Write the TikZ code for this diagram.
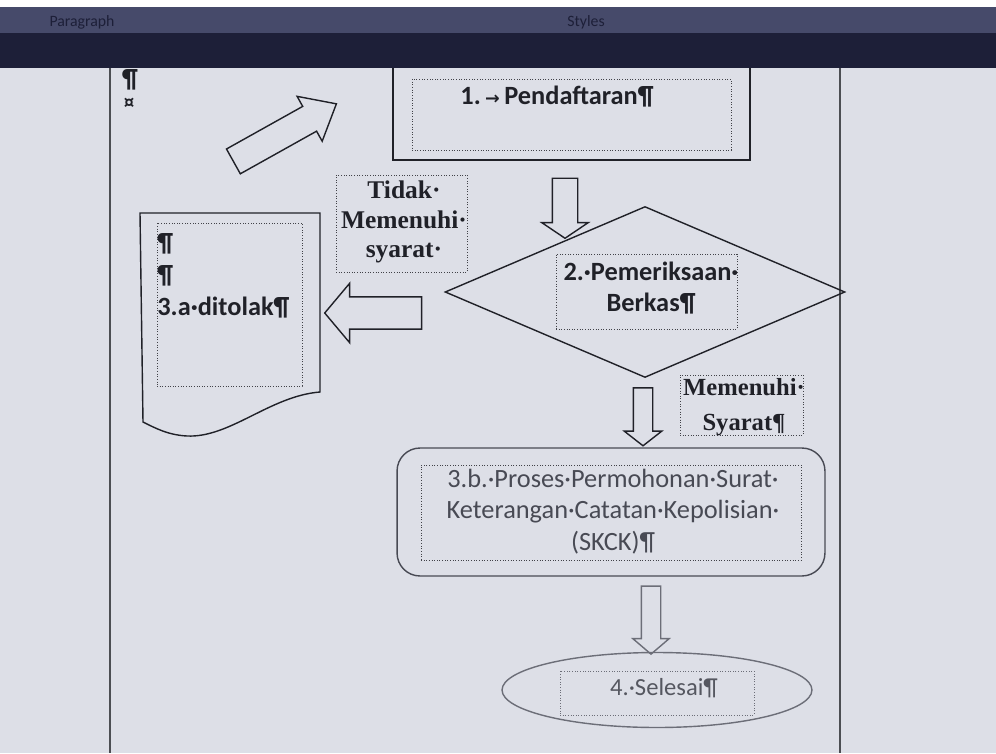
\documentclass[tikz,border=0pt]{standalone}
\usepackage{fontspec}
\setmainfont{Carlito}
\newfontfamily\hurufserif{Liberation Serif}
\newfontfamily\hurufsimbol{DejaVu Sans}
\usepackage{tikz}
\usetikzlibrary{positioning,shapes.geometric,shapes.arrows}

\definecolor{layar}{RGB}{221,223,231}
\definecolor{pita}{RGB}{70,74,106}
\definecolor{pitagelap}{RGB}{29,31,56}
\definecolor{tinta}{RGB}{32,33,40}
\definecolor{tintapudar}{RGB}{72,74,84}
\definecolor{tintasamar}{RGB}{108,110,120}

\tikzset{
        kotak/.style={draw=tinta, line width=0.8pt, inner sep=0pt},
        bingkai/.style={draw=tinta!85, densely dotted, line width=0.5pt, inner sep=0pt},
        panah/.style={draw=tinta, line width=0.8pt, single arrow},
        tebal/.style={font=\bfseries\fontsize{15}{18}\selectfont, text=tinta, align=center, inner sep=0pt},
        serif/.style={font=\hurufserif\bfseries\fontsize{14.5}{17}\selectfont, text=tinta, align=center, inner sep=0pt},
        biasa/.style={font=\fontsize{15}{17.9}\selectfont, text=tintapudar, align=center, inner sep=0pt}
}

\begin{document}
\begin{tikzpicture}[x=0.02cm, y=-0.02cm]
        \fill[layar] (0,0) rectangle (996,753);
        \useasboundingbox (0,0) rectangle (996,753);
        \draw[tinta!80, line width=0.7pt] (110,60) -- (110,753);
        \draw[tinta!80, line width=0.7pt] (840,60) -- (840,753);
        \node[tebal] (pilcrow) at (130,80) {¶};
        \node[text=tinta, font=\bfseries\fontsize{12}{12}\selectfont, inner sep=0pt] (sel) at (129,104) {¤};

        \node[kotak, minimum width=7.14cm, minimum height=2.4cm] (daftar) at (571.5,100) {};
        \node[bingkai, minimum width=6.38cm, minimum height=1.42cm] (daftarbox) at (571.5,114.5) {};
        \node[tebal] (daftarteks) at (557,97) {1.\,{\hurufsimbol\fontsize{10}{10}\selectfont →}\,Pendaftaran¶};

        \node[panah, minimum height=2.36cm, inner sep=0.27cm, single arrow head extend=0.23cm,
              single arrow tip angle=80, rotate=29.2] (serong) at (277.5,136.75) {};

        \node[bingkai, minimum width=2.62cm, minimum height=1.94cm] (tidakbox) at (401.5,223.5) {};
        \node[serif] (tidak) at (404,222) {Tidak·\\Memenuhi·\\syarat·};

        \node[panah, minimum height=1.2cm, inner sep=0.24cm, single arrow head extend=0.21cm,
              single arrow tip angle=112, rotate=-90] (turun1) at (565,204) {};

        \node[draw=tinta, line width=0.8pt, diamond, minimum width=8cm, minimum height=3.42cm,
              inner sep=0pt] (periksa) at (645,292) {};
        \node[bingkai, minimum width=3.62cm, minimum height=1.5cm] (periksabox) at (646.5,291.5) {};
        \node[tebal] (periksateks) at (651,288) {2.·Pemeriksaan·\\Berkas¶};

        \draw[tinta, line width=0.8pt] (140,213) -- (320,213) -- (320,392)
              .. controls (270,396) and (230,438) .. (187,436)
              .. controls (168,435) and (155,428) .. (143,422) -- cycle;
        \node[bingkai, minimum width=2.9cm, minimum height=3.26cm] (tolakbox) at (229.5,304.5) {};
        \node[tebal, align=left, anchor=west, font=\bfseries\fontsize{15}{18.3}\selectfont] (tolak) at (157,275.5) {¶\\¶\\3.a·ditolak¶};

        \node[panah, minimum height=1.94cm, inner sep=0.31cm, single arrow head extend=0.27cm,
              single arrow tip angle=100, rotate=180] (kiri) at (380,313) {};

        \node[panah, minimum height=1.16cm, inner sep=0.18cm, single arrow head extend=0.18cm,
              single arrow tip angle=104, rotate=-90] (turun2) at (643,413) {};
        \node[bingkai, minimum width=2.46cm, minimum height=1.2cm] (memenuhibox) at (741.5,405) {};
        \node[serif, font=\hurufserif\bfseries\fontsize{14}{19.8}\selectfont] (memenuhi) at (744,407.5) {Memenuhi·\\Syarat¶};

        \node[kotak, draw=tintapudar, rounded corners=0.46cm, minimum width=8.56cm,
              minimum height=2.56cm] (proses) at (611,512) {};
        \node[bingkai, minimum width=7.6cm, minimum height=1.9cm] (prosesbox) at (611,512.5) {};
        \node[biasa] (prosesteks) at (613,511.5) {3.b.·Proses·Permohonan·Surat·\\Keterangan·Catatan·Kepolisian·\\(SKCK)¶};

        \node[panah, draw=tintasamar, minimum height=1.36cm, inner sep=0.18cm, single arrow head extend=0.17cm,
              single arrow tip angle=99, rotate=-90] (turun3) at (651,616) {};
        \node[draw=tintasamar, line width=0.8pt, ellipse, minimum width=6.2cm, minimum height=1.5cm,
              inner sep=0pt] (selesai) at (657,690) {};
        \node[bingkai, draw=tintasamar, minimum width=3.88cm, minimum height=0.88cm] (selesaibox) at (657,693) {};
        \node[biasa, text=tintasamar!70!tinta, font=\fontsize{14}{17}\selectfont] (selesaiteks) at (664,688) {4.·Selesai¶};

        \fill[white] (0,0) rectangle (996,7);
        \fill[pita] (0,7) rectangle (996,33);
        \fill[pitagelap] (0,33) rectangle (996,68);
        \node[text=pitagelap, font=\fontsize{9}{9}\selectfont] (paragraf) at (82,22) {Paragraph};
        \node[text=pitagelap, font=\fontsize{9}{9}\selectfont] (gaya) at (586,22) {Styles};
\end{tikzpicture}
\end{document}
